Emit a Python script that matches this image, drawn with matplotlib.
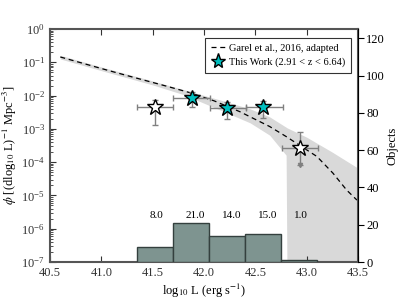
import numpy as np
import matplotlib
matplotlib.use("Agg")
import matplotlib.pyplot as plt

plt.rcParams['font.family'] = 'serif'
plt.rcParams['font.serif'] = ['Liberation Serif', 'DejaVu Serif']
plt.rcParams['mathtext.fontset'] = 'stix'

# Garel et al. 2016 curve (log10 L, log10 phi)
garel_logL = [40.6, 41.05, 41.3, 41.65, 41.86, 42.1, 42.35, 42.64, 42.8, 42.93, 43.10, 43.256, 43.39, 43.49]
garel_logphi = [-0.84, -1.23, -1.44, -1.73, -1.91, -2.16, -2.485, -2.93, -3.23, -3.49, -3.83, -4.33, -4.84, -5.14]

# shaded band round it
band_logL = [40.6, 41.0, 41.5, 41.8, 42.155, 42.45, 42.64, 42.80, 42.81, 43.0, 43.25, 43.5]
band_lo = [-0.90, -1.25, -1.68, -1.97, -2.43, -2.82, -3.19, -3.79, -8.0, -8.0, -8.0, -8.0]
band_hi = [-0.79, -1.14, -1.56, -1.82, -2.13, -2.40, -2.64, -2.95, -2.97, -3.25, -3.70, -4.18]

# this work
pts_logL = [41.52, 41.88, 42.226, 42.577, 42.934]
pts_xlo = [41.35, 41.70, 42.06, 42.41, 42.76]
pts_xhi = [41.70, 42.06, 42.41, 42.77, 43.11]
pts_phi = [4.6e-3, 8.3e-3, 4.2e-3, 4.6e-3, 2.6e-4]
pts_philo = [1.3e-3, 4.6e-3, 1.95e-3, 2.1e-3, 8.1e-5]
pts_phihi = [7.4e-3, 1.32e-2, 6.6e-3, 7.0e-3, 8.1e-4]
pts_filled = [False, True, True, True, False]

# histogram of objects
bin_edges = [41.35, 41.70, 42.05, 42.40, 42.75, 43.10]
counts = [8, 21, 14, 15, 1]

fig = plt.figure(figsize=(3.99, 2.99), dpi=100)
ax = fig.add_axes([0.1253, 0.1237, 0.7719, 0.7793])

ax.fill_between(band_logL, 10 ** np.array(band_lo), 10 ** np.array(band_hi),
                color='#d9d9d9', lw=0, zorder=1)
ax.plot(garel_logL, 10 ** np.array(garel_logphi), color='k', ls='--', lw=0.9,
        dashes=(4, 3), zorder=2, label='Garel et al., 2016, adapted')

x = np.array(pts_logL)
y = np.array(pts_phi)
xerr = [x - np.array(pts_xlo), np.array(pts_xhi) - x]
yerr = [y - np.array(pts_philo), np.array(pts_phihi) - y]
ax.errorbar(x, y, xerr=xerr, yerr=yerr, fmt='none', ecolor='#808080',
            elinewidth=1, capsize=2, capthick=1, zorder=3)
ax.plot([pts_logL[4]], [pts_philo[4]], marker='v', color='#808080', ms=3, zorder=3)
for xi, yi, f in zip(pts_logL, pts_phi, pts_filled):
    ax.plot(xi, yi, marker='*', ms=12, mfc='c' if f else 'w', mec='k', mew=1.0,
            ls='none', zorder=4)
ax.plot([], [], marker='*', ms=11, mfc='c', mec='k', mew=1.0, ls='none',
        label='This Work (2.91 < z < 6.64)')

ax.set_yscale('log')
ax.set_xlim(40.5, 43.5)
ax.set_ylim(1e-7, 1e0)
ax.set_xticks([40.5, 41.0, 41.5, 42.0, 42.5, 43.0, 43.5])
ax.set_xticklabels(['40.5', '41.0', '41.5', '42.0', '42.5', '43.0', '43.5'])
ax.tick_params(which='both', direction='in', top=True, labelsize=9, colors='#333333')
ax.tick_params(which='major', length=4)
ax.tick_params(which='minor', length=2)
ax.set_xlabel(r'log$_{10}$ L (erg s$^{-1}$)', fontsize=9, labelpad=2)
ax.set_ylabel(r'$\phi$ [(dlog$_{10}$ L)$^{-1}$ Mpc$^{-3}$]', fontsize=9, labelpad=2)
for s in ax.spines.values():
    s.set_color('#555555')
    s.set_linewidth(1.5)

leg = ax.legend(loc='upper right', fontsize=7.5, frameon=True, fancybox=False,
                handlelength=1.3, borderpad=0.55, labelspacing=0.45,
                handletextpad=0.4, borderaxespad=0, bbox_to_anchor=(0.977, 0.962))
leg.get_frame().set_edgecolor('k')
leg.get_frame().set_linewidth(0.8)

ax2 = ax.twinx()
ax2.bar(bin_edges[:-1], counts, width=np.diff(bin_edges), align='edge',
        color='#7e9490', edgecolor='#34403e', lw=1)
for lo, hi, c in zip(bin_edges[:-1], bin_edges[1:], counts):
    ax2.text((lo + hi) / 2 - 0.05, 25, '%.1f' % c, ha='left', va='center', fontsize=8)
ax2.set_ylim(0, 125)
ax2.set_yticks([0, 20, 40, 60, 80, 100, 120])
ax2.tick_params(direction='out', length=4, labelsize=9, pad=2)
ax2.set_ylabel('Objects', fontsize=9)
ax2.yaxis.set_label_coords(1.092, 0.5)
ax2.spines['right'].set_color('k')
for k in ['left', 'top', 'bottom']:
    ax2.spines[k].set_visible(False)

fig.savefig('out.png', dpi=100)
